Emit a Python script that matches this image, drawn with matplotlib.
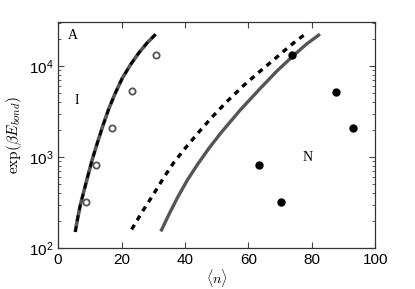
import numpy as np
import matplotlib
matplotlib.use('Agg')
import matplotlib.pyplot as plt
from matplotlib.ticker import LogLocator, NullFormatter

plt.rcParams['mathtext.fontset'] = 'cm'

# curve I (solid grey with black dashed overlay)
curve_I_n = [5.4, 6.2, 7.0, 8.2, 9.6, 10.9, 12.3, 14.1, 16.0, 18.0, 20.2,
             22.8, 25.5, 28.1, 30.8]
curve_I_E = [150, 215, 295, 430, 660, 970, 1400, 2200, 3400, 5000, 7300,
             10300, 14000, 18000, 22400]

# dashed curve near N
dash_N_n = [23.2, 26.7, 30.3, 33.4, 36.6, 40.5, 44.5, 49.0, 53.5, 58.5,
            63.6, 68.0, 72.1, 75.0, 77.9]
dash_N_E = [160, 255, 400, 600, 880, 1300, 1900, 2850, 4150, 6100,
            8700, 11700, 15500, 18800, 22300]

# solid grey curve near N
solid_N_n = [32.4, 35.0, 37.7, 40.8, 44.0, 47.6, 51.4, 57.5, 63.6, 69.0,
             74.2, 78.4, 82.6]
solid_N_E = [152, 235, 360, 560, 830, 1250, 1850, 3300, 5600, 8800,
             13000, 17500, 22400]

# open circles (I) and filled circles (N)
open_n = [8.9, 12.1, 17.0, 23.4, 30.8]
open_E = [323, 820, 2080, 5270, 13200]
filled_n = [70.3, 63.4, 92.9, 87.8, 73.9]
filled_E = [323, 817, 2060, 5220, 13200]

fig = plt.figure(figsize=(4.15, 2.89), dpi=100)
ax = fig.add_axes([0.14, 0.142, 0.764, 0.782])

grey = '#555555'
ax.plot(curve_I_n, curve_I_E, color=grey, lw=2.6, solid_capstyle='butt')
ax.plot(curve_I_n, curve_I_E, color='black', lw=1.9, dashes=(2.2, 2.0))
ax.plot(dash_N_n, dash_N_E, color='black', lw=2.4, dashes=(1.6, 1.6))
ax.plot(solid_N_n, solid_N_E, color=grey, lw=2.4, solid_capstyle='butt')
ax.plot(open_n, open_E, 'o', mfc='white', mec=grey, mew=1.3, ms=4.5, ls='none')
ax.plot(filled_n, filled_E, 'o', color='black', ms=5, ls='none')

ax.set_yscale('log')
ax.set_xlim(0, 100)
ax.set_ylim(100, 3.05e4)
ax.set_xticks([0, 20, 40, 60, 80, 100])
ax.yaxis.set_major_locator(LogLocator(base=10))
ax.yaxis.set_minor_locator(LogLocator(base=10, subs=np.arange(2, 10)))
ax.yaxis.set_minor_formatter(NullFormatter())
ax.tick_params(which='both', direction='in', top=True, right=True,
               labelsize=11, color='#444444')
ax.tick_params(which='major', length=4)
ax.tick_params(which='minor', length=2)
for lab in ax.get_xticklabels() + ax.get_yticklabels():
    lab.set_family('Liberation Sans')
for s in ax.spines.values():
    s.set_color('#333333')
    s.set_linewidth(0.9)

ax.set_xlabel(r'$\langle n \rangle$', fontsize=10, labelpad=0)
ax.set_ylabel(r'$\mathrm{exp}(\beta E_{bond})$', fontsize=11, labelpad=3)

ax.text(3.2, 2.0e4, 'A', family='Liberation Serif', fontsize=10)
ax.text(5.2, 3.8e3, 'I', family='Liberation Serif', fontsize=10)
ax.text(77.0, 9.0e2, 'N', family='Liberation Serif', fontsize=10)

plt.savefig('out.png', dpi=100)
